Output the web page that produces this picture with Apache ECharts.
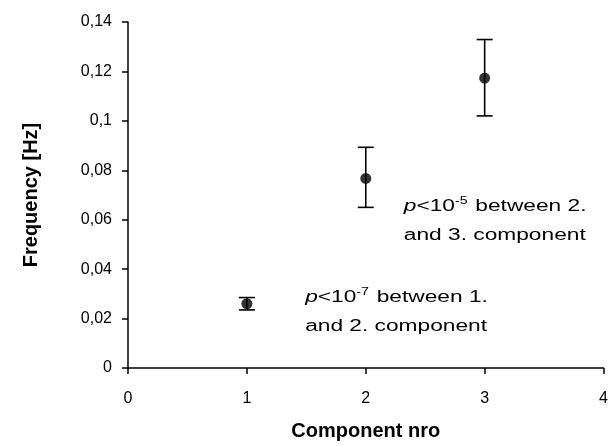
<!DOCTYPE html>
<html><head><meta charset="utf-8">
<script src="https://cdn.jsdelivr.net/npm/echarts@6/dist/echarts.min.js"></script>
<style>html,body{margin:0;padding:0;background:#fff}#c{width:611px;height:446px}</style>
</head><body><div id="c"></div>
<script>
const components = [1, 2, 3];
const frequency = [0.026, 0.0767, 0.1173];
const errLow = [0.0025, 0.0117, 0.0153];
const errHigh = [0.0025, 0.0126, 0.0156];
const yTicks = [0, 0.02, 0.04, 0.06, 0.08, 0.1, 0.12, 0.14];
const xTicks = [0, 1, 2, 3, 4];
const noteX = [2.32, 1.49];
const noteY = [0.0595, 0.0226];
const noteText = [
  '{i|p}<10{s|-5} between 2.\nand 3. component',
  '{i|p}<10{s|-7} between 1.\nand 2. component'
];

const chart = echarts.init(document.getElementById('c'));
const font = 'Liberation Sans, Arial, sans-serif';
const errData = components.map((c, i) => [c, frequency[i] - errLow[i], frequency[i] + errHigh[i]]);
chart.setOption({
  animation: false,
  grid: {left: 128, right: 5, top: 22, bottom: 71, containLabel: false},
  xAxis: {
    type: 'value', min: 0, max: 4, interval: 1,
    name: 'Component nro', nameLocation: 'middle', nameGap: 53,
    nameTextStyle: {fontFamily: font, fontWeight: 'bold', fontSize: 20, color: '#000'},
    axisLine: {lineStyle: {color: '#000', width: 1.5}},
    axisTick: {show: true, length: 6, lineStyle: {color: '#000', width: 1.5}},
    axisLabel: {fontFamily: font, fontSize: 16, color: '#000', margin: 23,
      formatter: v => String(v)},
    splitLine: {show: false}
  },
  yAxis: {
    type: 'value', min: 0, max: 0.14, interval: 0.02,
    name: 'Frequency [Hz]', nameLocation: 'middle', nameGap: 87,
    nameTextStyle: {fontFamily: font, fontWeight: 'bold', fontSize: 20, color: '#000'},
    axisLine: {show: true, lineStyle: {color: '#000', width: 1.5}},
    axisTick: {show: true, length: 6, lineStyle: {color: '#000', width: 1.5}},
    axisLabel: {fontFamily: font, fontSize: 16, color: '#000', margin: 16,
      formatter: v => String(Math.round(v * 100) / 100).replace('.', ',')},
    splitLine: {show: false}
  },
  series: [
    {
      type: 'custom',
      data: errData,
      encode: {x: 0, y: [1, 2]},
      renderItem: function (params, api) {
        const lo = api.coord([api.value(0), api.value(1)]);
        const hi = api.coord([api.value(0), api.value(2)]);
        const w = 8;
        const st = {stroke: '#000', lineWidth: 1.6};
        return {type: 'group', children: [
          {type: 'line', shape: {x1: lo[0], y1: lo[1], x2: hi[0], y2: hi[1]}, style: st},
          {type: 'line', shape: {x1: lo[0] - w, y1: lo[1], x2: lo[0] + w, y2: lo[1]}, style: st},
          {type: 'line', shape: {x1: hi[0] - w, y1: hi[1], x2: hi[0] + w, y2: hi[1]}, style: st}
        ]};
      },
      z: 2
    },
    {
      type: 'scatter',
      data: components.map((c, i) => [c, frequency[i]]),
      symbol: 'circle', symbolSize: 11,
      itemStyle: {color: '#000'},
      z: 3
    },
    {
      type: 'custom',
      data: noteX.map((x, i) => [x, noteY[i], i]),
      silent: true,
      renderItem: function (params, api) {
        const p = api.coord([api.value(0), api.value(1)]);
        const idx = api.value(2);
        return {
          type: 'text', x: p[0], y: p[1], scaleX: 1.42,
          style: {
            text: noteText[idx],
            fontFamily: font, fontSize: 16, fill: '#000',
            lineHeight: 29, align: 'left', verticalAlign: 'middle',
            rich: {
              i: {fontFamily: font, fontStyle: 'italic', fontSize: 16, fill: '#000', lineHeight: 29},
              s: {fontFamily: font, fontSize: 10, fill: '#000', verticalAlign: 'middle', padding: [0, 1, 10, 0], lineHeight: 29}
            }
          }
        };
      },
      z: 4
    }
  ]
});
</script></body></html>
